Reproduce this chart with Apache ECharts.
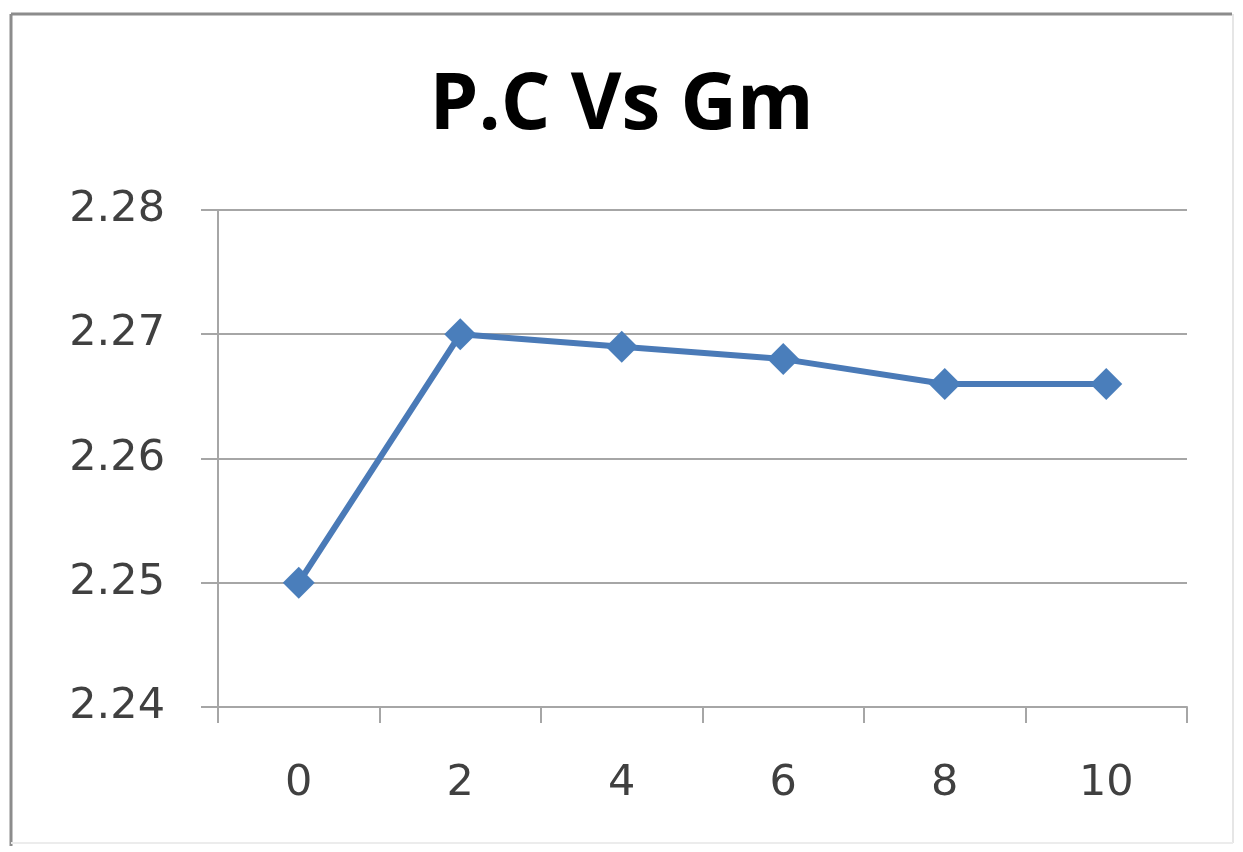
<!DOCTYPE html>
<html>
<head>
<meta charset="utf-8">
<script src="https://cdn.jsdelivr.net/npm/echarts@6/dist/echarts.min.js"></script>
<style>
  html, body { margin: 0; padding: 0; background: #fff; }
  #chart { width: 1243px; height: 852px; }
</style>
</head>
<body>
<div id="chart"></div>
<script>
// Gm values on the category axis and the matching P.C readings
const categories = ['0', '2', '4', '6', '8', '10'];
const pcValues = [2.25, 2.27, 2.269, 2.268, 2.266, 2.266];
const yTicks = { min: 2.24, max: 2.28, interval: 0.01 };

const chart = echarts.init(document.getElementById('chart'));
const gridColor = '#a6a6a6';
const labelFont = { fontFamily: 'DejaVu Sans', fontSize: 43, color: '#404040' };

chart.setOption({
  backgroundColor: '#ffffff',
  animation: false,
  title: {
    text: 'P.C Vs Gm',
    left: 'center',
    top: 63,
    textStyle: { fontFamily: 'Open Sans', fontWeight: 'bold', fontSize: 78, color: '#000' }
  },
  graphic: [
    // chart frame
    { type: 'line', shape: { x1: 11, y1: 14, x2: 1232, y2: 14 }, style: { stroke: '#8c8c8c', lineWidth: 3 } },
    { type: 'line', shape: { x1: 11, y1: 14, x2: 11, y2: 846 }, style: { stroke: '#8c8c8c', lineWidth: 3 } },
    { type: 'line', shape: { x1: 1233, y1: 14, x2: 1233, y2: 843 }, style: { stroke: '#e6e6e6', lineWidth: 2 } },
    { type: 'line', shape: { x1: 11, y1: 843, x2: 1233, y2: 843 }, style: { stroke: '#ececec', lineWidth: 2 } }
  ],
  grid: { left: 218, right: 56, top: 210, bottom: 145 },
  xAxis: {
    type: 'category',
    data: categories,
    boundaryGap: true,
    axisLine: { lineStyle: { color: gridColor, width: 2 } },
    axisTick: { show: true, length: 16, alignWithLabel: false, lineStyle: { color: gridColor, width: 2 } },
    axisLabel: Object.assign({ margin: 55 }, labelFont),
    splitLine: { show: false }
  },
  yAxis: {
    type: 'value',
    min: yTicks.min,
    max: yTicks.max,
    interval: yTicks.interval,
    axisLine: { show: true, lineStyle: { color: gridColor, width: 2 } },
    axisTick: { show: true, length: 17, lineStyle: { color: gridColor, width: 2 } },
    axisLabel: Object.assign({ margin: 53, formatter: v => v.toFixed(2) }, labelFont),
    splitLine: { show: true, lineStyle: { color: gridColor, width: 2 } }
  },
  series: [{
    type: 'line',
    data: pcValues,
    symbol: 'diamond',
    symbolSize: 32,
    lineStyle: { color: '#4a7ab7', width: 6 },
    itemStyle: { color: '#4a7ebb' }
  }]
});
</script>
</body>
</html>
